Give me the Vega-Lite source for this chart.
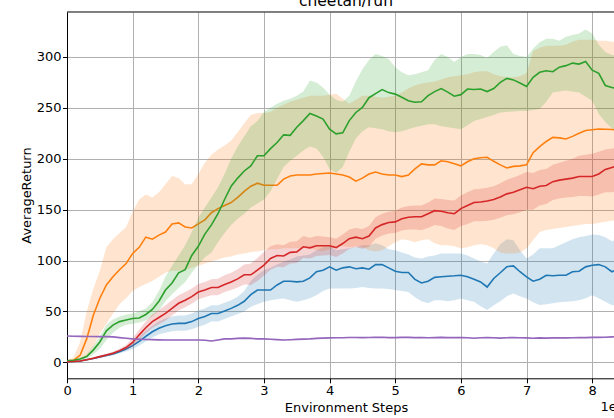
{
  "$schema": "https://vega.github.io/schema/vega-lite/v6.json",
  "width": 547,
  "height": 366.3,
  "autosize": "none",
  "padding": {"left": 67, "top": 12, "right": 0, "bottom": 40},
  "background": "white",
  "title": {"text": "cheetah/run", "font": "DejaVu Sans", "fontSize": 15.5, "fontWeight": "normal", "color": "#000", "anchor": "middle", "frame": "group", "dx": 5.5, "dy": 16, "offset": 6, "baseline": "alphabetic"},
  "config": {
    "view": {"stroke": null},
    "font": "DejaVu Sans",
    "axis": {
      "domainColor": "#000", "domainWidth": 1,
      "tickColor": "#000", "tickWidth": 1, "tickSize": 4.5,
      "labelFont": "DejaVu Sans", "labelFontSize": 13, "labelColor": "#000",
      "titleFont": "DejaVu Sans", "titleFontSize": 13, "titleFontWeight": "normal", "titleColor": "#000",
      "grid": true, "gridColor": "#b0b0b0", "gridWidth": 1,
      "labelFlush": false, "labelOverlap": false
    },
    "axisY": {
      "labelPadding": 1.5,
      "titleX": -41, "titleY": 183, "titleBaseline": "middle", "titleAngle": 270, "titleAlign": "center", "titleAnchor": "start"
    },
    "axisX": {
      "labelBaseline": "alphabetic", "labelPadding": 11.5,
      "titleX": 279, "titleY": 33, "titleBaseline": "alphabetic", "titleAlign": "center", "titleAnchor": "start"
    }
  },
  "datasets": {
    "run_blue": [
      {"x":0,"m":0.6,"lo":0.3,"hi":1},{"x":10000,"m":0.8,"lo":0.4,"hi":1.3},{"x":20000,"m":1.3,"lo":0.8,"hi":1.9},{"x":30000,"m":2.5,"lo":1.8,"hi":3.2},{"x":40000,"m":3.8,"lo":3,"hi":4.7},
      {"x":50000,"m":5.3,"lo":4.3,"hi":6.4},{"x":60000,"m":6.8,"lo":5.6,"hi":8.1},{"x":70000,"m":8.3,"lo":6.9,"hi":9.8},{"x":80000,"m":10.5,"lo":8.8,"hi":12.3},{"x":90000,"m":13,"lo":10.7,"hi":15.5},
      {"x":100000,"m":16.4,"lo":13,"hi":20},{"x":110000,"m":20.5,"lo":16.5,"hi":25},{"x":120000,"m":25.5,"lo":20.5,"hi":31},{"x":130000,"m":30,"lo":24.5,"hi":36},{"x":140000,"m":33.5,"lo":27.5,"hi":40},
      {"x":150000,"m":36,"lo":29,"hi":43},{"x":160000,"m":37.6,"lo":30.5,"hi":45},{"x":170000,"m":38.3,"lo":31,"hi":46},{"x":180000,"m":38.3,"lo":31,"hi":46},{"x":190000,"m":40,"lo":32.5,"hi":48},
      {"x":200000,"m":43,"lo":35,"hi":51},{"x":210000,"m":45,"lo":37,"hi":53},{"x":220000,"m":48,"lo":40,"hi":56},{"x":230000,"m":48,"lo":40,"hi":56},{"x":240000,"m":50.5,"lo":42.5,"hi":58.5},
      {"x":250000,"m":53,"lo":45,"hi":61},{"x":260000,"m":56,"lo":47.5,"hi":64.5},{"x":270000,"m":60,"lo":50,"hi":70},{"x":280000,"m":66.5,"lo":54.5,"hi":80},{"x":290000,"m":71,"lo":57,"hi":86},
      {"x":300000,"m":71,"lo":59.5,"hi":90.5},{"x":310000,"m":71,"lo":61,"hi":93},{"x":320000,"m":76,"lo":62,"hi":96},{"x":330000,"m":79.7,"lo":62.7,"hi":99},{"x":340000,"m":79.7,"lo":61,"hi":101},
      {"x":350000,"m":79,"lo":59.5,"hi":104},{"x":360000,"m":79.7,"lo":61,"hi":105},{"x":370000,"m":83,"lo":63,"hi":106},{"x":380000,"m":89,"lo":66,"hi":110},{"x":390000,"m":90.5,"lo":70,"hi":113},
      {"x":400000,"m":93.8,"lo":72.5,"hi":114},{"x":410000,"m":90.5,"lo":72.5,"hi":110},{"x":420000,"m":92.8,"lo":72.5,"hi":111},{"x":430000,"m":93.8,"lo":72.5,"hi":112},{"x":440000,"m":92,"lo":73,"hi":113},
      {"x":450000,"m":92.8,"lo":74,"hi":115},{"x":460000,"m":91.5,"lo":73,"hi":115},{"x":470000,"m":96,"lo":72.5,"hi":117},{"x":480000,"m":96,"lo":72.5,"hi":115},{"x":490000,"m":92.8,"lo":72,"hi":111},
      {"x":500000,"m":89.5,"lo":71,"hi":110},{"x":510000,"m":88.2,"lo":70,"hi":108},{"x":520000,"m":88.2,"lo":69,"hi":106},{"x":530000,"m":81.5,"lo":64,"hi":103},{"x":540000,"m":78,"lo":60,"hi":102},
      {"x":550000,"m":79.7,"lo":58,"hi":104},{"x":560000,"m":83.5,"lo":61,"hi":105},{"x":570000,"m":84,"lo":61,"hi":107},{"x":580000,"m":84.6,"lo":60,"hi":107},{"x":590000,"m":85,"lo":61,"hi":107},
      {"x":600000,"m":85.6,"lo":62.7,"hi":107},{"x":610000,"m":84,"lo":61,"hi":105},{"x":620000,"m":81.5,"lo":59.5,"hi":102},{"x":630000,"m":79,"lo":55,"hi":99},{"x":640000,"m":74,"lo":51.3,"hi":97},
      {"x":650000,"m":82.4,"lo":56,"hi":107},{"x":660000,"m":88,"lo":60,"hi":116},{"x":670000,"m":94,"lo":65,"hi":121},{"x":680000,"m":94.8,"lo":67.7,"hi":120},{"x":690000,"m":89,"lo":65,"hi":110},
      {"x":700000,"m":84,"lo":62.7,"hi":102},{"x":710000,"m":79.7,"lo":59,"hi":106},{"x":720000,"m":81.7,"lo":56.2,"hi":112},{"x":730000,"m":85.6,"lo":57,"hi":112},{"x":740000,"m":85,"lo":58,"hi":112},
      {"x":750000,"m":85.6,"lo":59,"hi":115},{"x":760000,"m":85.6,"lo":59.5,"hi":118},{"x":770000,"m":89,"lo":60,"hi":121},{"x":780000,"m":89.5,"lo":61,"hi":123},{"x":790000,"m":93.8,"lo":63,"hi":124},
      {"x":800000,"m":95.4,"lo":66,"hi":125.5},{"x":810000,"m":96,"lo":63,"hi":125},{"x":820000,"m":93.8,"lo":59.5,"hi":123},{"x":830000,"m":89,"lo":56,"hi":119},{"x":840000,"m":91.5,"lo":57,"hi":122},
      {"x":850000,"m":92,"lo":58,"hi":124}
    ],
    "run_orange": [
      {"x":0,"m":1.5,"lo":1,"hi":2},{"x":10000,"m":2,"lo":1,"hi":5},{"x":20000,"m":7,"lo":2,"hi":20},{"x":30000,"m":23,"lo":5,"hi":50},{"x":40000,"m":46,"lo":15,"hi":72},
      {"x":50000,"m":63,"lo":28,"hi":90},{"x":60000,"m":76,"lo":38,"hi":113},{"x":70000,"m":84,"lo":48,"hi":121},{"x":80000,"m":91,"lo":57,"hi":127},{"x":90000,"m":97,"lo":63,"hi":133},
      {"x":100000,"m":107,"lo":70,"hi":148},{"x":110000,"m":113,"lo":74,"hi":160},{"x":120000,"m":123,"lo":77,"hi":165},{"x":130000,"m":121,"lo":80,"hi":162},{"x":140000,"m":125,"lo":84,"hi":167},
      {"x":150000,"m":128,"lo":88,"hi":175},{"x":160000,"m":136,"lo":90,"hi":183},{"x":170000,"m":137,"lo":90,"hi":181},{"x":180000,"m":133,"lo":91,"hi":175},{"x":190000,"m":132,"lo":93,"hi":175},
      {"x":200000,"m":136,"lo":95,"hi":185},{"x":210000,"m":140,"lo":97,"hi":196},{"x":220000,"m":147,"lo":99,"hi":204},{"x":230000,"m":151,"lo":101,"hi":209},{"x":240000,"m":154,"lo":103,"hi":213},
      {"x":250000,"m":157,"lo":104,"hi":218},{"x":260000,"m":162,"lo":106,"hi":226},{"x":270000,"m":168,"lo":107,"hi":235},{"x":280000,"m":173,"lo":108.5,"hi":243},{"x":290000,"m":176,"lo":109,"hi":245},
      {"x":300000,"m":174,"lo":110,"hi":245},{"x":310000,"m":174,"lo":111,"hi":246},{"x":320000,"m":174,"lo":111,"hi":250},{"x":330000,"m":180,"lo":112,"hi":253},{"x":340000,"m":183,"lo":112,"hi":256},
      {"x":350000,"m":184,"lo":112,"hi":258},{"x":360000,"m":184,"lo":112,"hi":260},{"x":370000,"m":184,"lo":112,"hi":262},{"x":380000,"m":185,"lo":110,"hi":262},{"x":390000,"m":185.5,"lo":109,"hi":262},
      {"x":400000,"m":186,"lo":111,"hi":263},{"x":410000,"m":185,"lo":114,"hi":264},{"x":420000,"m":184,"lo":114,"hi":259},{"x":430000,"m":182,"lo":113,"hi":254},{"x":440000,"m":178,"lo":114,"hi":258},
      {"x":450000,"m":181,"lo":113,"hi":262},{"x":460000,"m":185,"lo":110,"hi":262},{"x":470000,"m":187,"lo":109,"hi":261},{"x":480000,"m":185,"lo":110,"hi":260},{"x":490000,"m":184,"lo":114,"hi":261},
      {"x":500000,"m":184,"lo":118,"hi":262},{"x":510000,"m":182.5,"lo":121,"hi":265},{"x":520000,"m":184,"lo":120,"hi":269},{"x":530000,"m":190,"lo":118,"hi":272},{"x":540000,"m":195,"lo":120,"hi":274},
      {"x":550000,"m":194,"lo":121,"hi":275},{"x":560000,"m":194,"lo":117,"hi":276},{"x":570000,"m":198,"lo":115,"hi":278},{"x":580000,"m":197,"lo":115,"hi":280},{"x":590000,"m":195,"lo":114,"hi":281},
      {"x":600000,"m":193,"lo":112,"hi":282},{"x":610000,"m":197,"lo":113,"hi":283},{"x":620000,"m":200,"lo":115,"hi":285},{"x":630000,"m":201,"lo":116,"hi":286},{"x":640000,"m":201.5,"lo":115,"hi":286},
      {"x":650000,"m":197.5,"lo":112,"hi":283},{"x":660000,"m":194,"lo":108,"hi":281},{"x":670000,"m":191,"lo":107,"hi":280},{"x":680000,"m":192.5,"lo":107,"hi":280},{"x":690000,"m":193,"lo":108,"hi":281},
      {"x":700000,"m":194,"lo":112,"hi":284},{"x":710000,"m":206,"lo":120,"hi":306},{"x":720000,"m":212,"lo":128,"hi":309},{"x":730000,"m":217,"lo":130,"hi":311},{"x":740000,"m":221,"lo":131,"hi":311},
      {"x":750000,"m":220.5,"lo":132,"hi":311},{"x":760000,"m":219.5,"lo":133,"hi":312},{"x":770000,"m":222,"lo":134,"hi":315},{"x":780000,"m":225,"lo":135,"hi":317},{"x":790000,"m":227.7,"lo":136,"hi":317},
      {"x":800000,"m":228.5,"lo":136,"hi":317},{"x":810000,"m":229.3,"lo":137,"hi":316},{"x":820000,"m":229,"lo":138,"hi":316},{"x":830000,"m":228.7,"lo":139,"hi":315},{"x":840000,"m":228,"lo":140,"hi":315},
      {"x":850000,"m":228,"lo":140,"hi":315}
    ],
    "run_green": [
      {"x":0,"m":1.5,"lo":1,"hi":2},{"x":10000,"m":2,"lo":1.5,"hi":2.5},{"x":20000,"m":3.3,"lo":2,"hi":4.5},{"x":30000,"m":5.6,"lo":3.5,"hi":8},{"x":40000,"m":12,"lo":8,"hi":16},
      {"x":50000,"m":20,"lo":13,"hi":25},{"x":60000,"m":31,"lo":22,"hi":37},{"x":70000,"m":36.5,"lo":29,"hi":42},{"x":80000,"m":40,"lo":34,"hi":45},{"x":90000,"m":41.5,"lo":37,"hi":47},
      {"x":100000,"m":43,"lo":38,"hi":48},{"x":110000,"m":43.5,"lo":39,"hi":50},{"x":120000,"m":47,"lo":41,"hi":53},{"x":130000,"m":52,"lo":45,"hi":59},{"x":140000,"m":60,"lo":51,"hi":70},
      {"x":150000,"m":71,"lo":60,"hi":84},{"x":160000,"m":78,"lo":67,"hi":95},{"x":170000,"m":88,"lo":73,"hi":105},{"x":180000,"m":91,"lo":79,"hi":115},{"x":190000,"m":105,"lo":88,"hi":128},
      {"x":200000,"m":114,"lo":96,"hi":142},{"x":210000,"m":126,"lo":103,"hi":152},{"x":220000,"m":135,"lo":108,"hi":162},{"x":230000,"m":146,"lo":118,"hi":172},{"x":240000,"m":160,"lo":127,"hi":185},
      {"x":250000,"m":173,"lo":135,"hi":200},{"x":260000,"m":181,"lo":141,"hi":212},{"x":270000,"m":188,"lo":146,"hi":222},{"x":280000,"m":193,"lo":152,"hi":232},{"x":290000,"m":203,"lo":156,"hi":237},
      {"x":300000,"m":203,"lo":160,"hi":246},{"x":310000,"m":210,"lo":168,"hi":250},{"x":320000,"m":216,"lo":180,"hi":254},{"x":330000,"m":223.5,"lo":192,"hi":257},{"x":340000,"m":223,"lo":198,"hi":259},
      {"x":350000,"m":231,"lo":203,"hi":262},{"x":360000,"m":237.5,"lo":208,"hi":266},{"x":370000,"m":244.5,"lo":212,"hi":277},{"x":380000,"m":242,"lo":210,"hi":275},{"x":390000,"m":239,"lo":202,"hi":270},
      {"x":400000,"m":229,"lo":190,"hi":263},{"x":410000,"m":224.5,"lo":186,"hi":258},{"x":420000,"m":225.5,"lo":192,"hi":256},{"x":430000,"m":237.5,"lo":207,"hi":262},{"x":440000,"m":245.5,"lo":220,"hi":276},
      {"x":450000,"m":250.5,"lo":227,"hi":288},{"x":460000,"m":260,"lo":231,"hi":297},{"x":470000,"m":264,"lo":230,"hi":303},{"x":480000,"m":268,"lo":229,"hi":301},{"x":490000,"m":265,"lo":227,"hi":298},
      {"x":500000,"m":263.5,"lo":226,"hi":290},{"x":510000,"m":260.5,"lo":227,"hi":285},{"x":520000,"m":257,"lo":229,"hi":282},{"x":530000,"m":255.5,"lo":231,"hi":283},{"x":540000,"m":256,"lo":232.5,"hi":285},
      {"x":550000,"m":262,"lo":234,"hi":287},{"x":560000,"m":266,"lo":234,"hi":297},{"x":570000,"m":269,"lo":232,"hi":303},{"x":580000,"m":265.5,"lo":231,"hi":300},{"x":590000,"m":261.5,"lo":230,"hi":295},
      {"x":600000,"m":263,"lo":229,"hi":300},{"x":610000,"m":268.5,"lo":233,"hi":303},{"x":620000,"m":268,"lo":237,"hi":303},{"x":630000,"m":268.5,"lo":239,"hi":302},{"x":640000,"m":266,"lo":241,"hi":299},
      {"x":650000,"m":269,"lo":243,"hi":305},{"x":660000,"m":275,"lo":245.5,"hi":310},{"x":670000,"m":279,"lo":246,"hi":311.5},{"x":680000,"m":277.5,"lo":246.5,"hi":303},{"x":690000,"m":274.5,"lo":247,"hi":301},
      {"x":700000,"m":271,"lo":247,"hi":300},{"x":710000,"m":280,"lo":248,"hi":308},{"x":720000,"m":285,"lo":249,"hi":314.5},{"x":730000,"m":286.5,"lo":256,"hi":318},{"x":740000,"m":285.5,"lo":265,"hi":318},
      {"x":750000,"m":290,"lo":266,"hi":316},{"x":760000,"m":291.5,"lo":267,"hi":320},{"x":770000,"m":294,"lo":266,"hi":321.5},{"x":780000,"m":293,"lo":265,"hi":323},{"x":790000,"m":295.5,"lo":261,"hi":327},
      {"x":800000,"m":287,"lo":257,"hi":323},{"x":810000,"m":284,"lo":244,"hi":312},{"x":820000,"m":272,"lo":236,"hi":305},{"x":830000,"m":270,"lo":230,"hi":302},{"x":840000,"m":269,"lo":226,"hi":301},
      {"x":850000,"m":268,"lo":224,"hi":300}
    ],
    "run_red": [
      {"x":0,"m":0.6,"lo":0.3,"hi":1},{"x":10000,"m":0.8,"lo":0.4,"hi":1.3},{"x":20000,"m":1.3,"lo":0.8,"hi":1.9},{"x":30000,"m":2.6,"lo":1.9,"hi":3.3},{"x":40000,"m":4,"lo":3.1,"hi":4.9},
      {"x":50000,"m":5.6,"lo":4.6,"hi":6.7},{"x":60000,"m":7.2,"lo":6,"hi":8.5},{"x":70000,"m":8.8,"lo":7.4,"hi":10.3},{"x":80000,"m":11.5,"lo":9.8,"hi":13.3},{"x":90000,"m":14.5,"lo":12.3,"hi":17},
      {"x":100000,"m":19.5,"lo":15.5,"hi":24},{"x":110000,"m":27,"lo":22,"hi":32},{"x":120000,"m":34,"lo":28.5,"hi":40},{"x":130000,"m":40,"lo":34,"hi":47},{"x":140000,"m":44,"lo":37.5,"hi":51.5},
      {"x":150000,"m":48,"lo":41,"hi":56},{"x":160000,"m":53,"lo":46,"hi":61},{"x":170000,"m":58,"lo":51,"hi":66},{"x":180000,"m":61,"lo":54,"hi":69},{"x":190000,"m":64.5,"lo":57.5,"hi":72.5},
      {"x":200000,"m":69,"lo":62,"hi":77},{"x":210000,"m":71,"lo":64,"hi":79},{"x":220000,"m":73.5,"lo":66,"hi":81.5},{"x":230000,"m":73.5,"lo":66,"hi":82},{"x":240000,"m":76.5,"lo":69,"hi":85.5},
      {"x":250000,"m":79,"lo":71,"hi":88},{"x":260000,"m":82,"lo":73.5,"hi":91.5},{"x":270000,"m":86,"lo":76.5,"hi":96},{"x":280000,"m":86,"lo":76,"hi":97},{"x":290000,"m":90.5,"lo":80,"hi":102.5},
      {"x":300000,"m":95.5,"lo":85,"hi":108.5},{"x":310000,"m":102,"lo":91,"hi":114},{"x":320000,"m":105,"lo":94,"hi":116},{"x":330000,"m":104.5,"lo":93.5,"hi":115},{"x":340000,"m":108,"lo":97,"hi":118.5},
      {"x":350000,"m":108.5,"lo":97.5,"hi":119},{"x":360000,"m":113.5,"lo":102.5,"hi":124},{"x":370000,"m":112.5,"lo":102,"hi":122.5},{"x":380000,"m":114.5,"lo":104.5,"hi":124},{"x":390000,"m":114.5,"lo":105,"hi":123.5},
      {"x":400000,"m":114.5,"lo":105.5,"hi":123},{"x":410000,"m":112.7,"lo":103.5,"hi":121.5},{"x":420000,"m":116.7,"lo":107,"hi":125.5},{"x":430000,"m":121.5,"lo":111.5,"hi":130.5},{"x":440000,"m":123,"lo":113,"hi":132},
      {"x":450000,"m":121.5,"lo":111.5,"hi":131},{"x":460000,"m":124,"lo":113.5,"hi":134},{"x":470000,"m":132,"lo":121.5,"hi":142.5},{"x":480000,"m":135.3,"lo":124.5,"hi":146},{"x":490000,"m":137.3,"lo":126.5,"hi":148},
      {"x":500000,"m":138,"lo":127,"hi":149},{"x":510000,"m":141,"lo":129.5,"hi":152},{"x":520000,"m":142.5,"lo":130.5,"hi":153.5},{"x":530000,"m":143,"lo":130.5,"hi":154},{"x":540000,"m":143,"lo":130,"hi":154},
      {"x":550000,"m":146,"lo":132,"hi":157},{"x":560000,"m":149,"lo":135,"hi":161},{"x":570000,"m":148.5,"lo":134,"hi":160.5},{"x":580000,"m":147,"lo":131.5,"hi":159.5},{"x":590000,"m":146,"lo":130,"hi":159},
      {"x":600000,"m":151,"lo":134,"hi":164},{"x":610000,"m":154,"lo":136,"hi":167},{"x":620000,"m":157,"lo":138.5,"hi":170},{"x":630000,"m":157.5,"lo":138.5,"hi":170.5},{"x":640000,"m":158.5,"lo":139,"hi":171.5},
      {"x":650000,"m":160,"lo":140,"hi":173},{"x":660000,"m":162.5,"lo":142,"hi":176},{"x":670000,"m":165.5,"lo":144.5,"hi":179.5},{"x":680000,"m":167,"lo":145.5,"hi":181.5},{"x":690000,"m":169.5,"lo":147.5,"hi":184},
      {"x":700000,"m":172,"lo":150,"hi":187},{"x":710000,"m":170.5,"lo":150,"hi":186},{"x":720000,"m":173,"lo":154,"hi":189},{"x":730000,"m":173.7,"lo":155.5,"hi":190},{"x":740000,"m":177.5,"lo":159.5,"hi":194},
      {"x":750000,"m":179,"lo":161,"hi":196},{"x":760000,"m":180,"lo":162,"hi":198},{"x":770000,"m":181,"lo":162.5,"hi":200},{"x":780000,"m":182.5,"lo":163.5,"hi":203},{"x":790000,"m":182.5,"lo":163.5,"hi":204},
      {"x":800000,"m":182.5,"lo":163,"hi":205},{"x":810000,"m":185,"lo":165,"hi":207},{"x":820000,"m":189.5,"lo":167,"hi":209},{"x":830000,"m":191.5,"lo":167,"hi":210},{"x":840000,"m":193,"lo":168,"hi":211},
      {"x":850000,"m":194,"lo":169,"hi":212}
    ],
    "run_purple": [
      {"x":0,"m":25.8,"lo":25.2,"hi":26.4},{"x":10000,"m":25.6,"lo":25,"hi":26.2},{"x":20000,"m":25.5,"lo":24.9,"hi":26.1},{"x":30000,"m":25.4,"lo":24.8,"hi":26},{"x":40000,"m":25.3,"lo":24.7,"hi":25.9},
      {"x":50000,"m":25.2,"lo":24.6,"hi":25.8},{"x":60000,"m":25.2,"lo":24.6,"hi":25.8},{"x":70000,"m":25,"lo":24.4,"hi":25.6},{"x":80000,"m":24.3,"lo":23.7,"hi":24.9},{"x":90000,"m":23.6,"lo":23,"hi":24.2},
      {"x":100000,"m":23,"lo":22.4,"hi":23.6},{"x":110000,"m":22.7,"lo":22.1,"hi":23.3},{"x":120000,"m":22.4,"lo":21.8,"hi":23},{"x":130000,"m":22.3,"lo":21.7,"hi":22.9},{"x":140000,"m":22.1,"lo":21.5,"hi":22.7},
      {"x":150000,"m":22,"lo":21.4,"hi":22.6},{"x":160000,"m":22,"lo":21.4,"hi":22.6},{"x":170000,"m":22,"lo":21.4,"hi":22.6},{"x":180000,"m":22,"lo":21.4,"hi":22.6},{"x":190000,"m":22,"lo":21.4,"hi":22.6},
      {"x":200000,"m":22,"lo":21.4,"hi":22.6},{"x":210000,"m":21.7,"lo":21.1,"hi":22.3},{"x":220000,"m":21,"lo":20.4,"hi":21.6},{"x":230000,"m":22,"lo":21.4,"hi":22.6},{"x":240000,"m":23,"lo":22.4,"hi":23.6},
      {"x":250000,"m":23,"lo":22.4,"hi":23.6},{"x":260000,"m":23.5,"lo":22.9,"hi":24.1},{"x":270000,"m":23.8,"lo":23.2,"hi":24.4},{"x":280000,"m":23.5,"lo":22.9,"hi":24.1},{"x":290000,"m":23,"lo":22.4,"hi":23.6},
      {"x":300000,"m":23,"lo":22.4,"hi":23.6},{"x":310000,"m":22.6,"lo":22,"hi":23.2},{"x":320000,"m":22.3,"lo":21.7,"hi":22.9},{"x":330000,"m":22,"lo":21.4,"hi":22.6},{"x":340000,"m":22.2,"lo":21.6,"hi":22.8},
      {"x":350000,"m":22.5,"lo":21.9,"hi":23.1},{"x":360000,"m":22.8,"lo":22.2,"hi":23.4},{"x":370000,"m":23,"lo":22.4,"hi":23.6},{"x":380000,"m":23.5,"lo":22.9,"hi":24.1},{"x":390000,"m":23.8,"lo":23.2,"hi":24.4},
      {"x":400000,"m":24,"lo":23.4,"hi":24.6},{"x":410000,"m":24.2,"lo":23.6,"hi":24.8},{"x":420000,"m":24.2,"lo":23.6,"hi":24.8},{"x":430000,"m":24.4,"lo":23.8,"hi":25},{"x":440000,"m":24.4,"lo":23.8,"hi":25},
      {"x":450000,"m":24.3,"lo":23.7,"hi":24.9},{"x":460000,"m":24.4,"lo":23.8,"hi":25},{"x":470000,"m":24.5,"lo":23.9,"hi":25.1},{"x":480000,"m":24.6,"lo":24,"hi":25.2},{"x":490000,"m":24.3,"lo":23.7,"hi":24.9},
      {"x":500000,"m":24.3,"lo":23.7,"hi":24.9},{"x":510000,"m":24.5,"lo":23.9,"hi":25.1},{"x":520000,"m":24.5,"lo":23.9,"hi":25.1},{"x":530000,"m":24.3,"lo":23.7,"hi":24.9},{"x":540000,"m":24.4,"lo":23.8,"hi":25},
      {"x":550000,"m":24.2,"lo":23.6,"hi":24.8},{"x":560000,"m":24.3,"lo":23.7,"hi":24.9},{"x":570000,"m":24.5,"lo":23.9,"hi":25.1},{"x":580000,"m":24.3,"lo":23.7,"hi":24.9},{"x":590000,"m":24.3,"lo":23.7,"hi":24.9},
      {"x":600000,"m":24.4,"lo":23.8,"hi":25},{"x":610000,"m":24.2,"lo":23.6,"hi":24.8},{"x":620000,"m":23.7,"lo":23.1,"hi":24.3},{"x":630000,"m":24.2,"lo":23.6,"hi":24.8},{"x":640000,"m":24.3,"lo":23.7,"hi":24.9},
      {"x":650000,"m":24.1,"lo":23.5,"hi":24.7},{"x":660000,"m":23.8,"lo":23.2,"hi":24.4},{"x":670000,"m":24.2,"lo":23.6,"hi":24.8},{"x":680000,"m":24.3,"lo":23.7,"hi":24.9},{"x":690000,"m":24.1,"lo":23.5,"hi":24.7},
      {"x":700000,"m":24,"lo":23.4,"hi":24.6},{"x":710000,"m":23.6,"lo":23,"hi":24.2},{"x":720000,"m":24,"lo":23.4,"hi":24.6},{"x":730000,"m":23.8,"lo":23.2,"hi":24.4},{"x":740000,"m":24,"lo":23.4,"hi":24.6},
      {"x":750000,"m":24.2,"lo":23.6,"hi":24.8},{"x":760000,"m":24,"lo":23.4,"hi":24.6},{"x":770000,"m":24.2,"lo":23.6,"hi":24.8},{"x":780000,"m":24.3,"lo":23.7,"hi":24.9},{"x":790000,"m":24.3,"lo":23.7,"hi":24.9},
      {"x":800000,"m":24.5,"lo":23.9,"hi":25.1},{"x":810000,"m":24.5,"lo":23.9,"hi":25.1},{"x":820000,"m":24.6,"lo":24,"hi":25.2},{"x":830000,"m":25,"lo":24.4,"hi":25.6},{"x":840000,"m":25.3,"lo":24.7,"hi":25.9},
      {"x":850000,"m":25.3,"lo":24.7,"hi":25.9}
    ]
  },
  "layer": [
    {
      "data": {"name": "run_blue"},
      "encoding": {
        "x": {"field": "x", "type": "quantitative", "title": "Environment Steps",
              "scale": {"domain": [0, 833210], "nice": false, "zero": false},
              "axis": {"values": [0,100000,200000,300000,400000,500000,600000,700000,800000],
                       "labelExpr": "format(datum.value / 100000, 'd')"}}
      },
      "layer": [
        {"mark": {"type": "area", "color": "#1f77b4", "fillOpacity": 0.2},
         "encoding": {"y": {"field": "lo", "type": "quantitative", "title": "AverageReturn"}, "y2": {"field": "hi"}}},
        {"mark": {"type": "line", "color": "#1f77b4", "strokeWidth": 1.6},
         "encoding": {"y": {"field": "m", "type": "quantitative", "title": "AverageReturn",
                            "scale": {"domain": [-15.7, 344.2], "nice": false, "zero": false},
                            "axis": {"values": [0,50,100,150,200,250,300]}}}}
      ]
    },
    {
      "data": {"name": "run_orange"},
      "encoding": {"x": {"field": "x", "type": "quantitative", "title": "Environment Steps"}},
      "layer": [
        {"mark": {"type": "area", "color": "#ff7f0e", "fillOpacity": 0.2},
         "encoding": {"y": {"field": "lo", "type": "quantitative", "title": "AverageReturn"}, "y2": {"field": "hi"}}},
        {"mark": {"type": "line", "color": "#ff7f0e", "strokeWidth": 1.6},
         "encoding": {"y": {"field": "m", "type": "quantitative", "title": "AverageReturn"}}}
      ]
    },
    {
      "data": {"name": "run_green"},
      "encoding": {"x": {"field": "x", "type": "quantitative", "title": "Environment Steps"}},
      "layer": [
        {"mark": {"type": "area", "color": "#2ca02c", "fillOpacity": 0.2},
         "encoding": {"y": {"field": "lo", "type": "quantitative", "title": "AverageReturn"}, "y2": {"field": "hi"}}},
        {"mark": {"type": "line", "color": "#2ca02c", "strokeWidth": 1.6},
         "encoding": {"y": {"field": "m", "type": "quantitative", "title": "AverageReturn"}}}
      ]
    },
    {
      "data": {"name": "run_red"},
      "encoding": {"x": {"field": "x", "type": "quantitative", "title": "Environment Steps"}},
      "layer": [
        {"mark": {"type": "area", "color": "#d62728", "fillOpacity": 0.2},
         "encoding": {"y": {"field": "lo", "type": "quantitative", "title": "AverageReturn"}, "y2": {"field": "hi"}}},
        {"mark": {"type": "line", "color": "#d62728", "strokeWidth": 1.6},
         "encoding": {"y": {"field": "m", "type": "quantitative", "title": "AverageReturn"}}}
      ]
    },
    {
      "data": {"name": "run_purple"},
      "encoding": {"x": {"field": "x", "type": "quantitative", "title": "Environment Steps"}},
      "layer": [
        {"mark": {"type": "area", "color": "#9467bd", "fillOpacity": 0.2},
         "encoding": {"y": {"field": "lo", "type": "quantitative", "title": "AverageReturn"}, "y2": {"field": "hi"}}},
        {"mark": {"type": "line", "color": "#9467bd", "strokeWidth": 1.6},
         "encoding": {"y": {"field": "m", "type": "quantitative", "title": "AverageReturn"}}}
      ]
    },
    {
      "data": {"values": [{"edge": "top"}]},
      "mark": {"type": "rule", "color": "#000", "strokeWidth": 1},
      "encoding": {
        "x": {"datum": 0, "type": "quantitative", "title": "Environment Steps"},
        "x2": {"datum": 850000},
        "y": {"datum": 344.2, "type": "quantitative", "title": "AverageReturn"}
      }
    },
    {
      "data": {"values": [{"label": "1e5"}]},
      "mark": {"type": "text", "align": "right", "baseline": "alphabetic", "dy": 33, "fontSize": 13, "font": "DejaVu Sans", "color": "#000"},
      "encoding": {
        "x": {"datum": 850000, "type": "quantitative", "title": "Environment Steps"},
        "y": {"datum": -15.7, "type": "quantitative", "title": "AverageReturn"},
        "text": {"field": "label"}
      }
    }
  ]
}
